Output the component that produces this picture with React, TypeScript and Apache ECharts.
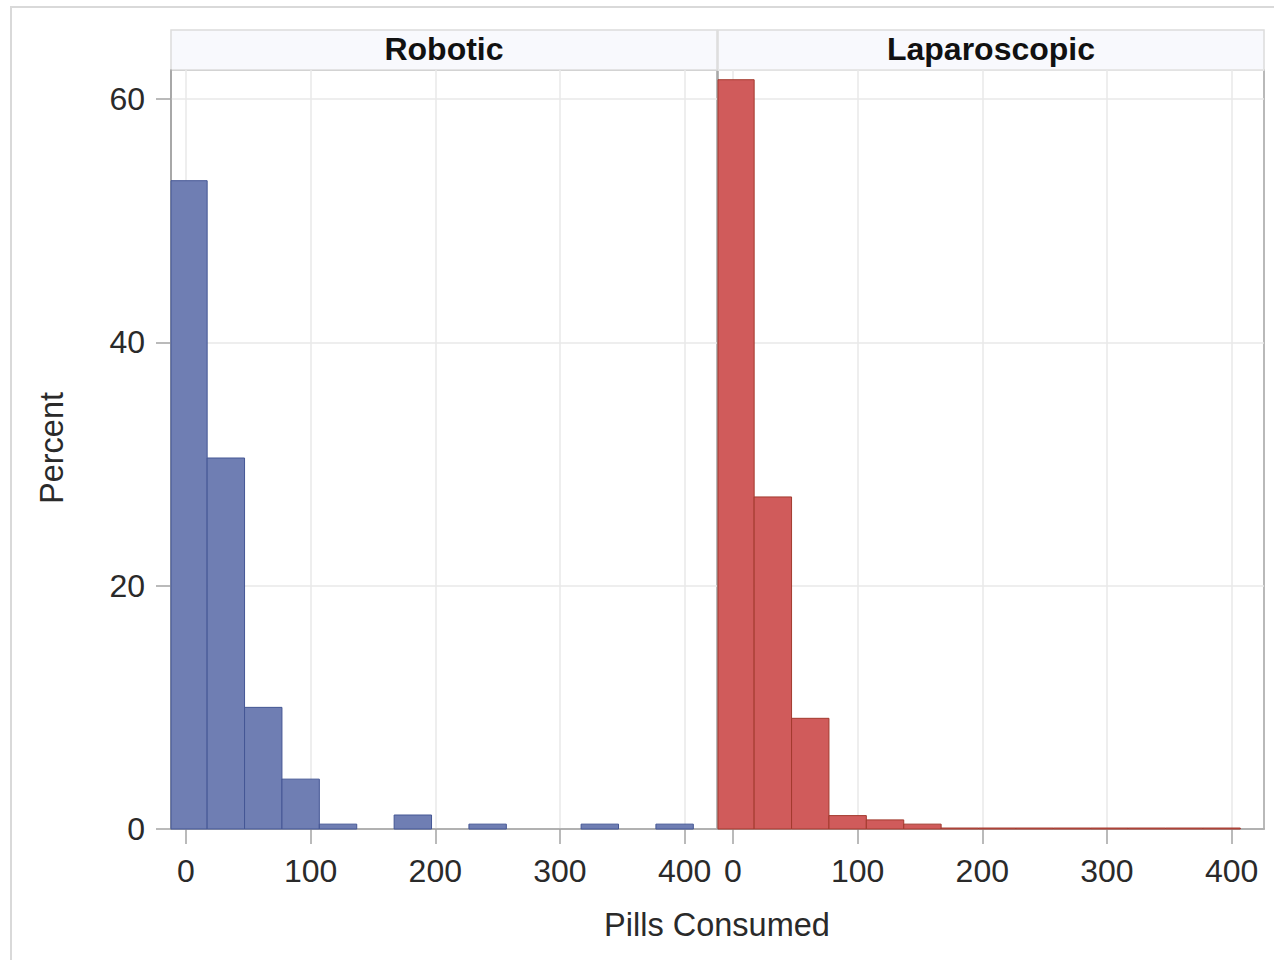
import React, { useEffect, useRef } from "react";
import * as echarts from "echarts";

// ---- data ----
const binStarts = [-13, 17, 47, 77, 107, 137, 167, 197, 227, 257, 287, 317, 347, 377];
const binWidth = 30;
const roboticPct = [53.3, 30.5, 10.0, 4.1, 0.4, 0, 1.15, 0, 0.4, 0, 0, 0.4, 0, 0.4];
const laparoscopicPct = [61.6, 27.3, 9.1, 1.1, 0.75, 0.4, 0.08, 0.08, 0.08, 0.08, 0.08, 0.08, 0.08, 0.08];
const panelNames = ["Robotic", "Laparoscopic"];
const xTicks = [0, 100, 200, 300, 400];
const yTicks = [0, 20, 40, 60];
const xTitle = "Pills Consumed";
const yTitle = "Percent";

const FONT = "'Liberation Sans', Arial, Helvetica, sans-serif";
const TEXT = "#2a2a2a";
const AXIS_GRAY = "#a3a3a3";
const GRID_GRAY = "#e9e9e9";

function toBins(vals: number[]) {
  return binStarts.map((s, i) => [s, s + binWidth, vals[i]]);
}

function makeRender(fill: string, stroke: string) {
  return (params: any, api: any) => {
    const x0 = api.value(0);
    const x1 = api.value(1);
    const v = api.value(2);
    if (!v) return null;
    const p0 = api.coord([x0, 0]);
    const p1 = api.coord([x1, v]);
    const cs = params.coordSys;
    const left = Math.max(p0[0], cs.x);
    const right = Math.min(p1[0], cs.x + cs.width);
    return {
      type: "rect",
      shape: { x: left, y: p1[1], width: right - left, height: p0[1] - p1[1] },
      style: { fill, stroke, lineWidth: 1 },
    };
  };
}

export default function App() {
  const ref = useRef<HTMLDivElement>(null);

  useEffect(() => {
    if (!ref.current) return;
    const chart = echarts.init(ref.current, undefined, { renderer: "svg" });

    const panelLeft = [171, 718];
    const panelW = 546;
    const top = 70;
    const plotH = 759;
    const headerTop = 30;
    const headerH = 40;

    const xAxisBase = (gi: number) => ({
      type: "value",
      gridIndex: gi,
      min: -12,
      max: 426,
      axisLine: { show: true, onZero: false, lineStyle: { color: AXIS_GRAY, width: 1.5 } },
      axisTick: {
        show: true,
        length: 15,
        customValues: xTicks,
        lineStyle: { color: AXIS_GRAY, width: 1.5 },
      },
      axisLabel: {
        customValues: xTicks,
        margin: 26,
        fontSize: 32,
        fontFamily: FONT,
        color: TEXT,
      },
      splitLine: { show: true, lineStyle: { color: GRID_GRAY, width: 1.5 } },
    });

    const option: any = {
      animation: false,
      backgroundColor: "#ffffff",
      grid: panelLeft.map((l) => ({
        left: l,
        top,
        width: panelW,
        height: plotH,
        show: true,
        borderColor: AXIS_GRAY,
        borderWidth: 1.5,
        backgroundColor: "transparent",
      })),
      xAxis: [xAxisBase(0), xAxisBase(1)],
      yAxis: [
        {
          type: "value",
          gridIndex: 0,
          min: 0,
          max: 62.4,
          interval: 20,
          axisLine: { show: true, onZero: false, lineStyle: { color: AXIS_GRAY, width: 1.5 } },
          axisTick: {
            show: true,
            length: 15,
            customValues: yTicks,
            lineStyle: { color: AXIS_GRAY, width: 1.5 },
          },
          axisLabel: {
            customValues: yTicks,
            margin: 26,
            fontSize: 32,
            fontFamily: FONT,
            color: TEXT,
          },
          splitLine: { show: true, lineStyle: { color: GRID_GRAY, width: 1.5 } },
        },
        {
          type: "value",
          gridIndex: 1,
          min: 0,
          max: 62.4,
          interval: 20,
          axisLine: { show: false, onZero: false },
          axisTick: { show: false },
          axisLabel: { show: false },
          splitLine: { show: true, lineStyle: { color: GRID_GRAY, width: 1.5 } },
        },
      ],
      series: [
        {
          type: "custom",
          name: panelNames[0],
          xAxisIndex: 0,
          yAxisIndex: 0,
          data: toBins(roboticPct),
          encode: { x: [0, 1], y: 2 },
          renderItem: makeRender("#6f7eb3", "#445694"),
        },
        {
          type: "custom",
          name: panelNames[1],
          xAxisIndex: 1,
          yAxisIndex: 1,
          data: toBins(laparoscopicPct),
          encode: { x: [0, 1], y: 2 },
          renderItem: makeRender("#d05b5b", "#a23a2e"),
        },
      ],
      graphic: [
        {
          type: "rect",
          silent: true,
          shape: { x: 11, y: 7, width: 1400, height: 1100 },
          style: { fill: "none", stroke: "#d9d9d9", lineWidth: 2 },
          z: 0,
        },
        ...panelLeft.map((l, i) => ({
          type: "group",
          children: [
            {
              type: "rect",
              shape: { x: l, y: headerTop, width: panelW, height: headerH },
              style: { fill: "#f8f9fd", stroke: "#dcdcdc", lineWidth: 1.5 },
            },
            {
              type: "text",
              x: l + panelW / 2,
              y: headerTop + headerH / 2 - 1,
              style: {
                text: panelNames[i],
                fontFamily: FONT,
                fontSize: 32,
                fontWeight: "bold",
                fill: "#111111",
                align: "center",
                verticalAlign: "middle",
              },
            },
          ],
        })),
        {
          type: "text",
          x: 717,
          y: 925,
          style: {
            text: xTitle,
            fontFamily: FONT,
            fontSize: 32.5,
            fill: TEXT,
            align: "center",
            verticalAlign: "middle",
          },
        },
        {
          type: "text",
          x: 52,
          y: 448,
          rotation: Math.PI / 2,
          style: {
            text: yTitle,
            fontFamily: FONT,
            fontSize: 32.5,
            fill: TEXT,
            align: "center",
            verticalAlign: "middle",
          },
        },
      ],
    };

    chart.setOption(option);
    return () => chart.dispose();
  }, []);

  return (
    <div
      ref={ref}
      style={{
        position: "fixed",
        left: 0,
        top: 0,
        width: 1274,
        height: 960,
        background: "#ffffff",
      }}
    />
  );
}
